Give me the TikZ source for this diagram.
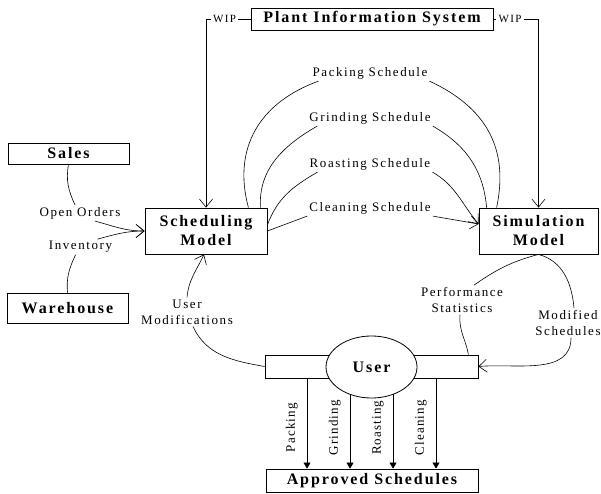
\documentclass[tikz,border=0pt]{standalone}
\usepackage{fontspec}
\setmainfont{Liberation Serif}
\newfontfamily\boxfont{Liberation Serif}[LetterSpace=12]
\newfontfamily\flowfont{Liberation Serif}[LetterSpace=12]
\newfontfamily\armfont{Liberation Serif}[LetterSpace=9]
\usetikzlibrary{arrows.meta,backgrounds,shapes.geometric}

\begin{document}
\begin{tikzpicture}
[x=1pt,y=1pt,
  boxDecorate/.style={draw,line width=0.8pt,inner sep=0pt,align=center,fill=white,%
    font=\boxfont\bfseries\fontsize{16}{19}\selectfont},%
  labelDecorate/.style={inner sep=2pt,align=center,font=\flowfont\fontsize{13}{16}\selectfont},%
  lineDecorate/.style={line width=0.6pt},%
  barbDecorate/.style={lineDecorate,-{Straight Barb[length=8pt,width=13pt]}},%
  solidDecorate/.style={lineDecorate,-{Triangle[length=6pt,width=7pt]}}]
\useasboundingbox (0,0) rectangle (601,-494);
%% boxes
\foreach \nodename/\x/\y/\w/\h/\txt in {
  pis/372/-19/242/22/{Plant Information System},
  sales/68.5/-153.5/121/21/Sales,
  sched/206/-231/122/46/{Scheduling\\Model},
  sim/538.5/-231/119/46/{Simulation\\Model},
  wh/67.5/-308/121/30/Warehouse,
  userbar/371.5/-366.5/213/23/{},
  appr/372/-480.5/212/23/{Approved Schedules}}
{
  \node (\nodename) at (\x,\y) [boxDecorate,minimum width=\w,minimum height=\h] {\txt};
}
\node (user) at (371.5,-367) [boxDecorate,ellipse,minimum width=91,minimum height=62] {User};
%% flow labels
\foreach \nodename/\x/\y/\txt in {
  packLbl/370/-73/{Packing Schedule},
  grindLbl/370/-118/{Grinding Schedule},
  roastLbl/370/-164/{Roasting Schedule},
  cleanLbl/370/-208/{Cleaning Schedule},
  ooLbl/80/-213/{Open Orders},
  invLbl/80.5/-247/Inventory,
  umLbl/187/-312/{User\\Modifications},
  perfLbl/462/-300/{Performance\\Statistics},
  modLbl/568/-323/{Modified\\Schedules}}
{
  \node (\nodename) at (\x,\y) [labelDecorate] {\txt};
}
\node (wipL) at (224.5,-19) [labelDecorate,font=\flowfont\fontsize{11}{13}\selectfont] {WIP};
\node (wipR) at (510,-19) [labelDecorate,font=\flowfont\fontsize{11}{13}\selectfont] {WIP};
%% WIP
\draw[lineDecorate] (pis.west) -- (wipL.east);
\draw[barbDecorate] (wipL.west) -| (sched.north);
\draw[lineDecorate] (pis.east) -- (wipR.west);
\draw[barbDecorate] (wipR.east) -| (sim.north);
%% schedules
\draw[lineDecorate] ([xshift=-19pt]sched.north east) to[out=105,in=200,looseness=1.1] ([xshift=8pt]packLbl.south west);
\draw[lineDecorate] (packLbl.south east) to[out=-25,in=78,looseness=1.1] ([xshift=18pt]sim.north west);
\draw[lineDecorate] ([xshift=-7pt]sched.north east) to[out=93,in=210] ([xshift=10pt]grindLbl.south west);
\draw[lineDecorate] (grindLbl.south east) to[out=-30,in=95] ([xshift=8pt]sim.north west);
\draw[lineDecorate] ([yshift=6pt]sched.east) to[out=70,in=210] ([xshift=10pt]roastLbl.south west);
\draw[barbDecorate] (roastLbl.south east) to[out=-30,in=130] ([yshift=7pt]sim.west);
\draw[lineDecorate] (sched.east) -- (cleanLbl.south west);
\draw[barbDecorate] (cleanLbl.south east) -- ([yshift=7pt]sim.west);
%% sales and warehouse
\draw[lineDecorate] (sales.south) to[out=-100,in=115] ([xshift=-5pt]ooLbl.north);
\draw[barbDecorate] ([xshift=15pt]ooLbl.south) to[out=-15,in=180] (sched.west);
\draw[barbDecorate] ([xshift=17pt]invLbl.north) to[out=15,in=180] (sched.west);
\draw[lineDecorate] ([xshift=-5pt]invLbl.south) to[out=-115,in=95] (wh.north);
%% user loop
\draw[lineDecorate] ([xshift=6pt]umLbl.south) to[out=-65,in=170] (userbar.west);
\draw[barbDecorate] (umLbl.north) to[out=85,in=245] ([xshift=-2pt]sched.south);
\draw[lineDecorate] (sim.south) to[out=195,in=35] ([xshift=12pt]perfLbl.north);
\draw[lineDecorate] ([xshift=-2pt]perfLbl.south) to[out=-95,in=100] ([xshift=-10pt]userbar.north east);
\draw[lineDecorate] (sim.south) to[out=-15,in=95] ([xshift=6pt]modLbl.north);
\draw[barbDecorate] ([xshift=3pt]modLbl.south) to[out=-90,in=5] (userbar.east);
%% approved schedules
\begin{scope}[on background layer]
\foreach \x/\txt in {307/Packing, 350/Grinding, 393/Roasting, 436/Cleaning}
{
  \draw[solidDecorate] (\x,0 |- userbar.center) -- node[pos=0.6,rotate=90,anchor=south,inner sep=9pt,%
    font=\armfont\fontsize{13}{16}\selectfont] {\txt} (\x,0 |- appr.north);
};
\end{scope}
\end{tikzpicture}
\end{document}
